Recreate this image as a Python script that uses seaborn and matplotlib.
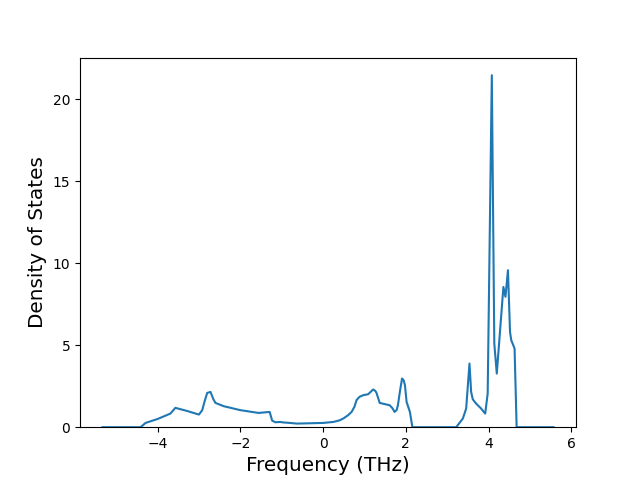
import matplotlib
matplotlib.use("Agg")
import matplotlib.pyplot as plt
import seaborn as sns
import pandas as pd

frequency = [-5.33, -4.41, -4.29, -4.0, -3.69, -3.57, -3.3, -3.00, -2.92, -2.86, -2.80, -2.72,
             -2.65, -2.60, -2.40, -2.0, -1.56, -1.29, -1.23, -1.15, -1.04, -0.96, -0.80, -0.63,
             0.0, 0.25, 0.40, 0.49, 0.60, 0.69, 0.76, 0.81, 0.88, 0.97, 1.09, 1.15, 1.21, 1.26,
             1.29, 1.37, 1.61, 1.68, 1.73, 1.78, 1.81, 1.86, 1.91, 1.95, 1.98, 2.02, 2.10, 2.16,
             3.22, 3.38, 3.46, 3.54, 3.58, 3.62, 3.70, 3.82, 3.92, 3.98, 4.08, 4.14, 4.20,
             4.36, 4.41, 4.47, 4.52, 4.55, 4.63, 4.68, 5.57]
dos = [0.0, 0.0, 0.26, 0.5, 0.83, 1.18, 1.0, 0.77, 1.04, 1.6, 2.09, 2.15,
       1.7, 1.48, 1.28, 1.04, 0.87, 0.93, 0.40, 0.30, 0.32, 0.29, 0.26, 0.22,
       0.26, 0.32, 0.42, 0.53, 0.72, 0.93, 1.25, 1.65, 1.85, 1.95, 2.01, 2.15, 2.30, 2.22,
       2.11, 1.48, 1.34, 1.15, 0.93, 1.05, 1.34, 2.2, 2.97, 2.85, 2.56, 1.54, 0.93, 0.0,
       0.0, 0.53, 1.14, 3.88, 2.15, 1.7, 1.44, 1.14, 0.83, 2.05, 21.46, 5.1, 3.27,
       8.55, 7.95, 9.57, 5.81, 5.3, 4.8, 0.0, 0.0]

df = pd.DataFrame({"Frequency": frequency, "DOS": dos})

fig, ax = plt.subplots(figsize=(6.4, 4.8), dpi=100)
sns.lineplot(data=df, x="Frequency", y="DOS", ax=ax, color="#1f77b4", linewidth=1.5)
ax.set_ylim(bottom=0)
ax.set_xlabel("Frequency (THz)", fontsize="x-large")
ax.set_ylabel("Density of States", fontsize="x-large")
fig.savefig("out.png", dpi=100)
